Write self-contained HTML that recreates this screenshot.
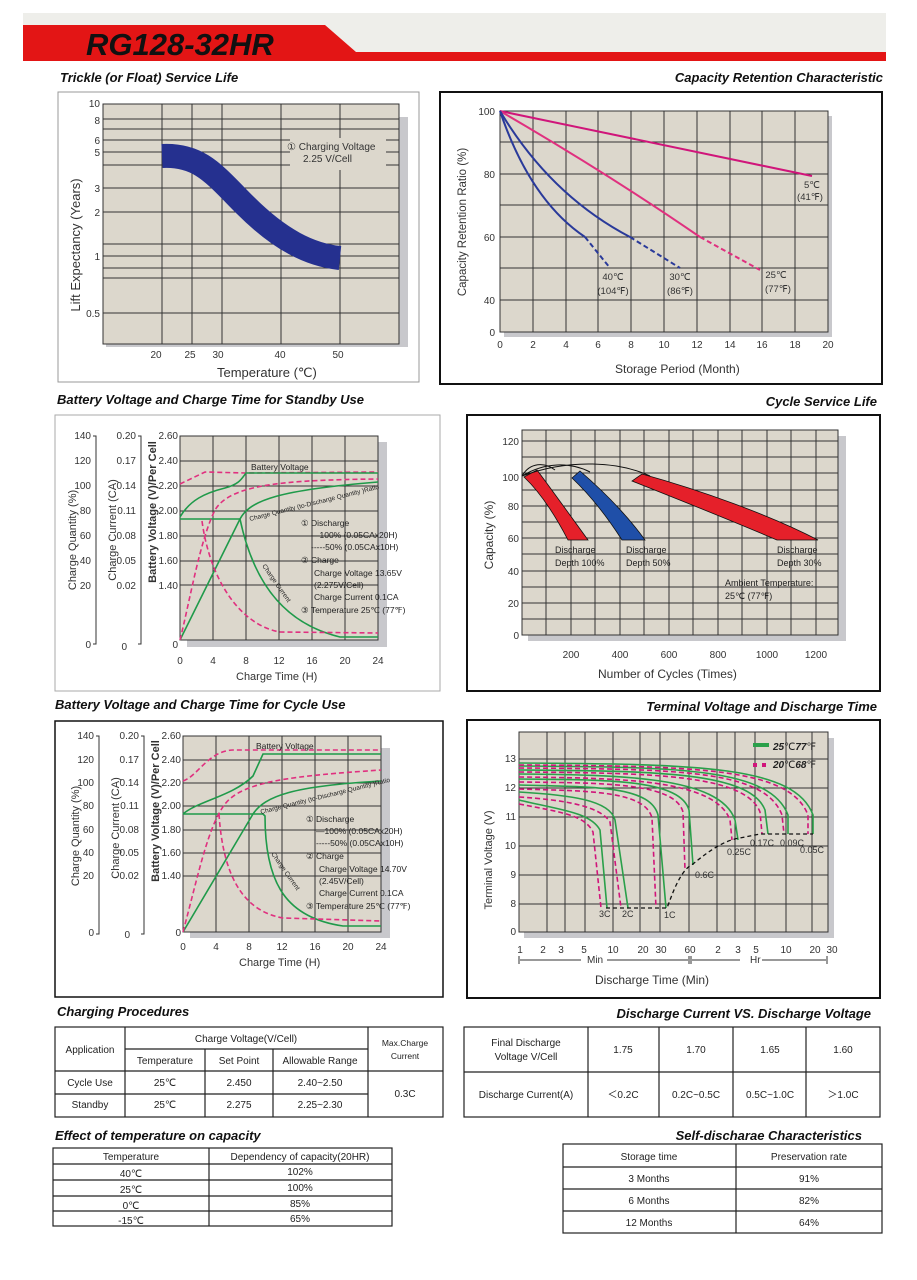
<!DOCTYPE html>
<html><head><meta charset="utf-8"><style>
body{margin:0;background:#fff;width:917px;height:1280px;overflow:hidden}
svg{display:block}
text{font-family:"Liberation Sans",sans-serif}
.t{font-weight:bold;font-style:italic;font-size:13px;fill:#111}
.ax{font-size:10px;fill:#333}
.lab{font-size:12px;fill:#333}
.g{stroke:#333;stroke-width:1}
.tb{font-family:"Liberation Sans Narrow","Liberation Sans",sans-serif;font-size:10px;fill:#222}
</style></head><body>
<svg width="917" height="1280" viewBox="0 0 917 1280">
<!-- header -->
<rect x="23" y="13" width="863" height="40" fill="#eeeeea"/>
<path d="M23 25 H325 L356 52 H886 V61 H23 Z" fill="#e31515"/>
<text x="86" y="55" font-size="31" font-weight="bold" font-style="italic" fill="#111">RG128-32HR</text>

<!-- titles -->
<text class="t" x="60" y="82">Trickle (or Float) Service Life</text>
<text class="t" x="883" y="82" text-anchor="end">Capacity Retention Characteristic</text>
<text class="t" x="57" y="404">Battery Voltage and Charge Time for Standby Use</text>
<text class="t" x="877" y="406" text-anchor="end">Cycle Service Life</text>
<text class="t" x="55" y="709">Battery Voltage and Charge Time for Cycle Use</text>
<text class="t" x="877" y="711" text-anchor="end">Terminal Voltage and Discharge Time</text>
<text class="t" x="57" y="1016">Charging Procedures</text>
<text class="t" x="871" y="1018" text-anchor="end">Discharge Current VS. Discharge Voltage</text>
<text class="t" x="55" y="1140">Effect of temperature on capacity</text>
<text class="t" x="862" y="1140" text-anchor="end">Self-discharae Characteristics</text>

<!-- Trickle -->
<rect x="58" y="92" width="361" height="290" fill="#fff" stroke="#999"/>
<rect x="106" y="117" width="302" height="230" fill="#c8c8cc"/>
<rect x="103" y="104" width="296" height="240" fill="#dcd7cc" stroke="#333"/>
<g class="g">
<line x1="103" y1="119" x2="399" y2="119"/><line x1="103" y1="129" x2="399" y2="129"/><line x1="103" y1="140" x2="399" y2="140"/>
<line x1="103" y1="152" x2="399" y2="152"/><line x1="103" y1="165" x2="399" y2="165"/><line x1="103" y1="188" x2="399" y2="188"/>
<line x1="103" y1="212" x2="399" y2="212"/><line x1="103" y1="244" x2="399" y2="244"/><line x1="103" y1="256" x2="399" y2="256"/>
<line x1="103" y1="268" x2="399" y2="268"/><line x1="103" y1="278" x2="399" y2="278"/><line x1="103" y1="313" x2="399" y2="313"/>
<line x1="162" y1="104" x2="162" y2="344"/><line x1="192" y1="104" x2="192" y2="344"/><line x1="222" y1="104" x2="222" y2="344"/>
<line x1="281" y1="104" x2="281" y2="344"/><line x1="340" y1="104" x2="340" y2="344"/>
</g>
<rect x="290" y="138" width="96" height="32" fill="#dcd7cc"/>
<text x="287" y="150" font-size="10" fill="#333">① Charging Voltage</text>
<text x="303" y="162" font-size="10" fill="#333">2.25 V/Cell</text>
<path d="M162 156 C200 154 215 175 245 205 C280 240 310 255 340 258" stroke="#25308f" stroke-width="24" fill="none"/>
<g class="ax" text-anchor="end">
<text x="100" y="107">10</text><text x="100" y="124">8</text><text x="100" y="144">6</text><text x="100" y="156">5</text>
<text x="100" y="192">3</text><text x="100" y="216">2</text><text x="100" y="260">1</text><text x="100" y="317">0.5</text>
</g>
<g class="ax" text-anchor="middle">
<text x="156" y="358">20</text><text x="190" y="358">25</text><text x="218" y="358">30</text><text x="280" y="358">40</text><text x="338" y="358">50</text>
</g>
<text x="217" y="377" font-size="13" fill="#333">Temperature (℃)</text>
<text transform="translate(80,245) rotate(-90)" font-size="13" fill="#333" text-anchor="middle">Lift  Expectancy (Years)</text>

<!-- Capacity retention -->
<rect x="440" y="92" width="442" height="292" fill="#fff" stroke="#111" stroke-width="2"/>
<rect x="504" y="116" width="328" height="221" fill="#c8c8cc"/>
<rect x="500" y="111" width="328" height="221" fill="#dcd7cc" stroke="#333"/>
<g class="g">
<line x1="533" y1="111" x2="533" y2="332"/><line x1="566" y1="111" x2="566" y2="332"/><line x1="598" y1="111" x2="598" y2="332"/>
<line x1="631" y1="111" x2="631" y2="332"/><line x1="664" y1="111" x2="664" y2="332"/><line x1="697" y1="111" x2="697" y2="332"/>
<line x1="730" y1="111" x2="730" y2="332"/><line x1="762" y1="111" x2="762" y2="332"/><line x1="795" y1="111" x2="795" y2="332"/>
<line x1="500" y1="142" x2="828" y2="142"/><line x1="500" y1="174" x2="828" y2="174"/><line x1="500" y1="205" x2="828" y2="205"/>
<line x1="500" y1="237" x2="828" y2="237"/><line x1="500" y1="268" x2="828" y2="268"/><line x1="500" y1="300" x2="828" y2="300"/>
</g>
<path d="M500 111 L812 176" stroke="#d0157a" stroke-width="2" fill="none"/>
<path d="M500 111 Q610 175 700 237" stroke="#e0307f" stroke-width="2" fill="none"/>
<path d="M700 237 L760 270" stroke="#e0307f" stroke-width="2" stroke-dasharray="5,3" fill="none"/>
<path d="M500 111 Q550 195 630 237" stroke="#2a3a9a" stroke-width="2" fill="none"/>
<path d="M630 237 L680 268" stroke="#2a3a9a" stroke-width="2" stroke-dasharray="5,3" fill="none"/>
<path d="M500 111 Q530 200 585 237" stroke="#2a3a9a" stroke-width="2" fill="none"/>
<path d="M585 237 L610 268" stroke="#2a3a9a" stroke-width="2" stroke-dasharray="5,3" fill="none"/>
<g font-size="9.5" fill="#333" text-anchor="middle">
<text x="613" y="280">40℃</text><text x="613" y="294">(104℉)</text>
<text x="680" y="280">30℃</text><text x="680" y="294">(86℉)</text>
<text x="776" y="278">25℃</text><text x="778" y="292">(77℉)</text>
<text x="812" y="188">5℃</text><text x="810" y="200">(41℉)</text>
</g>
<g class="ax" text-anchor="end"><text x="495" y="115">100</text><text x="495" y="178">80</text><text x="495" y="241">60</text><text x="495" y="304">40</text><text x="495" y="336">0</text></g>
<g class="ax" text-anchor="middle"><text x="500" y="348">0</text><text x="533" y="348">2</text><text x="566" y="348">4</text><text x="598" y="348">6</text><text x="631" y="348">8</text><text x="664" y="348">10</text><text x="697" y="348">12</text><text x="730" y="348">14</text><text x="762" y="348">16</text><text x="795" y="348">18</text><text x="828" y="348">20</text></g>
<text x="615" y="373" font-size="12" fill="#333">Storage Period (Month)</text>
<text transform="translate(466,222) rotate(-90)" font-size="11.5" fill="#333" text-anchor="middle">Capacity Retention Ratio (%)</text>

<!-- Standby -->
<g>
<rect x="55" y="415" width="385" height="276" fill="#fff" stroke="#aaa"/>
<rect x="187" y="442" width="200" height="205" fill="#c8c8cc"/>
<rect x="180" y="436" width="198" height="204" fill="#dcd7cc" stroke="#333"/>
<g class="g">
<line x1="213" y1="436" x2="213" y2="640"/><line x1="246" y1="436" x2="246" y2="640"/><line x1="279" y1="436" x2="279" y2="640"/><line x1="312" y1="436" x2="312" y2="640"/><line x1="345" y1="436" x2="345" y2="640"/>
<line x1="180" y1="461" x2="378" y2="461"/><line x1="180" y1="486" x2="378" y2="486"/><line x1="180" y1="511" x2="378" y2="511"/><line x1="180" y1="536" x2="378" y2="536"/><line x1="180" y1="561" x2="378" y2="561"/><line x1="180" y1="585" x2="378" y2="585"/>
</g>
<path d="M180 484 L205 472 L246 473 L378 472" stroke="#e0307f" stroke-width="1.6" stroke-dasharray="5,3" fill="none"/>
<path d="M180 517 C190 500 205 493 225 488 C240 484 242 478 246 473 L378 473" stroke="#1f9a4a" stroke-width="1.6" fill="none"/>
<path d="M180 519 L240 519" stroke="#1f9a4a" stroke-width="1.6" fill="none"/>
<path d="M180 640 L240 519 C250 500 280 490 378 482" stroke="#1f9a4a" stroke-width="1.6" fill="none"/>
<path d="M180 640 C190 600 200 540 215 510 C230 485 280 480 378 479" stroke="#e0307f" stroke-width="1.6" stroke-dasharray="5,3" fill="none"/>
<path d="M240 519 C255 590 290 625 340 637 L378 637" stroke="#1f9a4a" stroke-width="1.6" fill="none"/>
<path d="M202 521 C210 580 240 625 280 632 L378 633" stroke="#e0307f" stroke-width="1.6" stroke-dasharray="5,3" fill="none"/>
<g font-size="8.5" fill="#222"><text x="251" y="470">Battery Voltage</text>
<text transform="translate(250,521) rotate(-14)" font-size="6.5">Charge Quantity (to-Discharge Quantity )Ratio</text>
<text transform="translate(262,566) rotate(55)" font-size="6.5">Charge Current</text>
<text x="301" y="526">① Discharge</text><text x="311" y="538">—100% (0.05CAx20H)</text><text x="311" y="550">-----50% (0.05CAx10H)</text>
<text x="301" y="563">② Charge</text><text x="314" y="576">Charge Voltage  13.65V</text><text x="314" y="588">(2.275V/Cell)</text>
<text x="314" y="600">Charge Current 0.1CA</text><text x="301" y="613">③ Temperature 25℃ (77℉)</text></g>
<g class="ax" text-anchor="end" font-size="9">
<text x="91" y="439">140</text><text x="91" y="464">120</text><text x="91" y="489">100</text><text x="91" y="514">80</text><text x="91" y="539">60</text><text x="91" y="564">40</text><text x="91" y="589">20</text><text x="91" y="648">0</text>
<text x="136" y="439">0.20</text><text x="136" y="464">0.17</text><text x="136" y="489">0.14</text><text x="136" y="514">0.11</text><text x="136" y="539">0.08</text><text x="136" y="564">0.05</text><text x="136" y="589">0.02</text><text x="127" y="650">0</text>
<text x="178" y="439">2.60</text><text x="178" y="464">2.40</text><text x="178" y="489">2.20</text><text x="178" y="514">2.00</text><text x="178" y="539">1.80</text><text x="178" y="564">1.60</text><text x="178" y="589">1.40</text><text x="178" y="648">0</text>
</g>
<path d="M93 436 H96 V644 H93 M138 436 H141 V644 H138" stroke="#333" fill="none"/>
<g class="ax" text-anchor="middle" font-size="9"><text x="180" y="664">0</text><text x="213" y="664">4</text><text x="246" y="664">8</text><text x="279" y="664">12</text><text x="312" y="664">16</text><text x="345" y="664">20</text><text x="378" y="664">24</text></g>
<text x="236" y="680" font-size="11" fill="#333">Charge Time (H)</text>
<g font-size="11" fill="#333" text-anchor="middle">
<text transform="translate(76,540) rotate(-90)">Charge Quantity (%)</text>
<text transform="translate(116,530) rotate(-90)">Charge Current (CA)</text>
<text transform="translate(156,512) rotate(-90)" font-weight="bold">Battery Voltage (V)/Per Cell</text></g>
</g>

<!-- Cycle use -->
<g transform="translate(3,306)">
<rect x="52" y="415" width="388" height="276" fill="#fff" stroke="#111" stroke-width="1.5"/>
<rect x="187" y="442" width="200" height="190" fill="#c8c8cc"/>
<rect x="180" y="430" width="198" height="196" fill="#dcd7cc" stroke="#333"/>
<g class="g">
<line x1="213" y1="430" x2="213" y2="626"/><line x1="246" y1="430" x2="246" y2="626"/><line x1="279" y1="430" x2="279" y2="626"/><line x1="312" y1="430" x2="312" y2="626"/><line x1="345" y1="430" x2="345" y2="626"/>
<line x1="180" y1="454" x2="378" y2="454"/><line x1="180" y1="477" x2="378" y2="477"/><line x1="180" y1="500" x2="378" y2="500"/><line x1="180" y1="524" x2="378" y2="524"/><line x1="180" y1="547" x2="378" y2="547"/><line x1="180" y1="570" x2="378" y2="570"/>
</g>
<path d="M180 475 C195 470 205 445 230 444 L378 444" stroke="#e0307f" stroke-width="1.6" stroke-dasharray="5,3" fill="none"/>
<path d="M180 508 C195 495 230 490 250 470 L260 448 L378 448" stroke="#1f9a4a" stroke-width="1.6" fill="none"/>
<path d="M180 508 L260 508" stroke="#1f9a4a" stroke-width="1.6" fill="none"/>
<path d="M180 626 L250 508 C262 490 290 480 378 475" stroke="#1f9a4a" stroke-width="1.6" fill="none"/>
<path d="M180 626 C195 570 205 520 222 498 C240 475 290 470 378 464" stroke="#e0307f" stroke-width="1.6" stroke-dasharray="5,3" fill="none"/>
<path d="M260 508 L262 510 C262 580 285 612 340 620 L378 620" stroke="#1f9a4a" stroke-width="1.6" fill="none"/>
<path d="M216 508 C220 570 240 605 280 612 L378 615" stroke="#e0307f" stroke-width="1.6" stroke-dasharray="5,3" fill="none"/>
<g font-size="8.5" fill="#222"><text x="253" y="443">Battery Voltage</text>
<text transform="translate(258,508) rotate(-14)" font-size="6.5">Charge Quantity (to-Discharge Quantity )Ratio</text>
<text transform="translate(268,548) rotate(55)" font-size="6.5">Charge Current</text>
<text x="303" y="516">① Discharge</text><text x="313" y="528">—100% (0.05CAx20H)</text><text x="313" y="540">-----50% (0.05CAx10H)</text>
<text x="303" y="553">② Charge</text><text x="316" y="566">Charge Voltage 14.70V</text><text x="316" y="578">(2.45V/Cell)</text>
<text x="316" y="590">Charge Current 0.1CA</text><text x="303" y="603">③ Temperature 25℃ (77℉)</text></g>
<g class="ax" text-anchor="end" font-size="9">
<text x="91" y="433">140</text><text x="91" y="457">120</text><text x="91" y="480">100</text><text x="91" y="503">80</text><text x="91" y="527">60</text><text x="91" y="550">40</text><text x="91" y="573">20</text><text x="91" y="630">0</text>
<text x="136" y="433">0.20</text><text x="136" y="457">0.17</text><text x="136" y="480">0.14</text><text x="136" y="503">0.11</text><text x="136" y="527">0.08</text><text x="136" y="550">0.05</text><text x="136" y="573">0.02</text><text x="127" y="632">0</text>
<text x="178" y="433">2.60</text><text x="178" y="457">2.40</text><text x="178" y="480">2.20</text><text x="178" y="503">2.00</text><text x="178" y="527">1.80</text><text x="178" y="550">1.60</text><text x="178" y="573">1.40</text><text x="178" y="630">0</text>
</g>
<path d="M93 430 H96 V628 H93 M138 430 H141 V628 H138" stroke="#333" fill="none"/>
<g class="ax" text-anchor="middle" font-size="9"><text x="180" y="644">0</text><text x="213" y="644">4</text><text x="246" y="644">8</text><text x="279" y="644">12</text><text x="312" y="644">16</text><text x="345" y="644">20</text><text x="378" y="644">24</text></g>
<text x="236" y="660" font-size="11" fill="#333">Charge Time (H)</text>
<g font-size="11" fill="#333" text-anchor="middle">
<text transform="translate(76,530) rotate(-90)">Charge Quantity (%)</text>
<text transform="translate(116,522) rotate(-90)">Charge Current (CA)</text>
<text transform="translate(156,505) rotate(-90)" font-weight="bold">Battery Voltage (V)/Per Cell</text></g>
</g>

<!-- Cycle service life -->
<rect x="467" y="415" width="413" height="276" fill="#fff" stroke="#111" stroke-width="2"/>
<rect x="528" y="436" width="318" height="205" fill="#c8c8cc"/>
<rect x="522" y="430" width="316" height="205" fill="#dcd7cc" stroke="#333"/>
<g class="g">
<line x1="546" y1="430" x2="546" y2="635"/><line x1="571" y1="430" x2="571" y2="635"/><line x1="595" y1="430" x2="595" y2="635"/><line x1="620" y1="430" x2="620" y2="635"/><line x1="644" y1="430" x2="644" y2="635"/><line x1="669" y1="430" x2="669" y2="635"/><line x1="693" y1="430" x2="693" y2="635"/><line x1="718" y1="430" x2="718" y2="635"/><line x1="742" y1="430" x2="742" y2="635"/><line x1="767" y1="430" x2="767" y2="635"/><line x1="791" y1="430" x2="791" y2="635"/><line x1="816" y1="430" x2="816" y2="635"/>
<line x1="522" y1="441" x2="838" y2="441"/><line x1="522" y1="457" x2="838" y2="457"/><line x1="522" y1="473" x2="838" y2="473"/><line x1="522" y1="490" x2="838" y2="490"/><line x1="522" y1="506" x2="838" y2="506"/><line x1="522" y1="522" x2="838" y2="522"/><line x1="522" y1="538" x2="838" y2="538"/><line x1="522" y1="554" x2="838" y2="554"/><line x1="522" y1="571" x2="838" y2="571"/><line x1="522" y1="587" x2="838" y2="587"/><line x1="522" y1="603" x2="838" y2="603"/><line x1="522" y1="619" x2="838" y2="619"/>
</g>
<path d="M537 470 C552 490 572 518 588 540 L568 540 C555 515 540 492 524 477 Z" fill="#e5202a" stroke="#111" stroke-width="0.8"/>
<path d="M580 471 C602 490 627 515 645 540 L622 540 C606 515 590 495 572 478 Z" fill="#1f4fa8" stroke="#111" stroke-width="0.8"/>
<path d="M642 474 C700 490 770 515 818 540 L777 540 C730 520 680 500 632 481 Z" fill="#e5202a" stroke="#111" stroke-width="0.8"/>
<path d="M522 476 C530 462 545 462 555 470 M522 476 C545 462 570 462 590 472 M522 476 C570 458 620 462 650 476" stroke="#111" fill="none"/>
<g font-size="9" fill="#222"><text x="555" y="553">Discharge</text><text x="555" y="566">Depth 100%</text>
<text x="626" y="553">Discharge</text><text x="626" y="566">Depth 50%</text>
<text x="777" y="553">Discharge</text><text x="777" y="566">Depth 30%</text>
<text x="725" y="586">Ambient Temperature:</text><text x="725" y="599">25℃ (77℉)</text></g>
<g class="ax" text-anchor="end"><text x="519" y="445">120</text><text x="519" y="481">100</text><text x="519" y="510">80</text><text x="519" y="542">60</text><text x="519" y="575">40</text><text x="519" y="607">20</text><text x="519" y="639">0</text></g>
<g class="ax" text-anchor="middle"><text x="571" y="658">200</text><text x="620" y="658">400</text><text x="669" y="658">600</text><text x="718" y="658">800</text><text x="767" y="658">1000</text><text x="816" y="658">1200</text></g>
<text x="598" y="678" font-size="12" fill="#333">Number of Cycles (Times)</text>
<text transform="translate(493,535) rotate(-90)" font-size="12" fill="#333" text-anchor="middle">Capacity (%)</text>

<!-- Terminal voltage -->
<rect x="467" y="720" width="413" height="278" fill="#fff" stroke="#111" stroke-width="2"/>
<rect x="524" y="738" width="310" height="200" fill="#c8c8cc"/>
<rect x="519" y="732" width="309" height="200" fill="#dcd7cc" stroke="#333"/>
<g class="g">
<line x1="547" y1="732" x2="547" y2="932"/><line x1="565" y1="732" x2="565" y2="932"/><line x1="585" y1="732" x2="585" y2="932"/><line x1="613" y1="732" x2="613" y2="932"/><line x1="640" y1="732" x2="640" y2="932"/><line x1="660" y1="732" x2="660" y2="932"/><line x1="689" y1="732" x2="689" y2="932"/><line x1="717" y1="732" x2="717" y2="932"/><line x1="735" y1="732" x2="735" y2="932"/><line x1="755" y1="732" x2="755" y2="932"/><line x1="786" y1="732" x2="786" y2="932"/><line x1="812" y1="732" x2="812" y2="932"/>
<line x1="519" y1="759" x2="828" y2="759"/><line x1="519" y1="788" x2="828" y2="788"/><line x1="519" y1="817" x2="828" y2="817"/><line x1="519" y1="846" x2="828" y2="846"/><line x1="519" y1="875" x2="828" y2="875"/><line x1="519" y1="904" x2="828" y2="904"/>
</g>
<g fill="none" stroke-width="1.6">
<g stroke="#2aa04a">
<path d="M519 800 C560 810 590 812 600 830 L607 908"/>
<path d="M519 792 C570 795 610 800 615 820 L628 908"/>
<path d="M519 785 C590 787 650 785 658 815 L666 908"/>
<path d="M519 779 C600 780 680 778 689 810 L693 865"/>
<path d="M519 774 C620 775 720 776 735 820 L738 840"/>
<path d="M519 770 C650 771 750 771 765 810 L768 834"/>
<path d="M519 766 C680 767 770 768 788 815 L788 834"/>
<path d="M519 763 C700 764 795 766 813 815 L813 834"/>
</g>
<g stroke="#d0157a" stroke-dasharray="5,3">
<path d="M519 804 C560 812 585 815 593 832 L601 908"/>
<path d="M519 797 C565 800 600 806 610 822 L621 908"/>
<path d="M519 789 C585 791 645 790 652 818 L656 908"/>
<path d="M519 782 C600 783 675 782 683 812 L685 870"/>
<path d="M519 777 C620 778 715 779 730 820 L732 840"/>
<path d="M519 772 C650 773 745 774 760 812 L762 834"/>
<path d="M519 768 C680 769 765 770 782 815 L784 834"/>
<path d="M519 765 C700 766 790 768 808 815 L808 834"/>
</g>
<path d="M606 908 L667 908 C672 895 680 870 693 864 C710 850 725 840 740 838 L760 834 L813 834" stroke="#111" stroke-dasharray="4,3" stroke-width="1.3"/>
</g>
<g font-size="9" fill="#333"><text x="599" y="917">3C</text><text x="622" y="917">2C</text><text x="664" y="918">1C</text><text x="695" y="878">0.6C</text><text x="727" y="855">0.25C</text><text x="750" y="846">0.17C</text><text x="780" y="846">0.09C</text><text x="800" y="853">0.05C</text></g>
<rect x="753" y="743" width="16" height="4" fill="#2aa04a"/>
<rect x="753" y="763" width="4" height="4" fill="#d0157a"/><rect x="762" y="763" width="4" height="4" fill="#d0157a"/>
<text x="773" y="750" font-size="10" font-weight="bold" font-style="italic" fill="#222">25<tspan font-weight="normal" font-style="normal">℃</tspan>77<tspan font-weight="normal" font-style="normal">℉</tspan></text>
<text x="773" y="768" font-size="10" font-weight="bold" font-style="italic" fill="#222">20<tspan font-weight="normal" font-style="normal">℃</tspan>68<tspan font-weight="normal" font-style="normal">℉</tspan></text>
<g class="ax" text-anchor="end"><text x="516" y="762">13</text><text x="516" y="791">12</text><text x="516" y="820">11</text><text x="516" y="849">10</text><text x="516" y="878">9</text><text x="516" y="907">8</text><text x="516" y="935">0</text></g>
<g class="ax" text-anchor="middle"><text x="520" y="953">1</text><text x="543" y="953">2</text><text x="561" y="953">3</text><text x="584" y="953">5</text><text x="613" y="953">10</text><text x="643" y="953">20</text><text x="661" y="953">30</text><text x="690" y="953">60</text><text x="718" y="953">2</text><text x="738" y="953">3</text><text x="756" y="953">5</text><text x="786" y="953">10</text><text x="815" y="953">20</text><text x="832" y="953">30</text></g>
<path d="M520 960 H581 M607 960 H688 M692 960 H740 M762 960 H826 M519 956 V964 M689 956 V964 M691 956 V964 M827 956 V964" stroke="#333"/>
<text x="587" y="963" font-size="10" fill="#333">Min</text><text x="750" y="963" font-size="10" fill="#333">Hr</text>
<text x="595" y="984" font-size="12" fill="#333">Discharge Time (Min)</text>
<text transform="translate(492,860) rotate(-90)" font-size="11" fill="#333" text-anchor="middle">Terminal Voltage (V)</text>

<!-- Tables -->
<g stroke="#222" stroke-width="1.2" fill="none">
<rect x="55" y="1027" width="388" height="90"/>
<path d="M125 1027 V1117 M368 1027 V1117 M125 1049 H368 M55 1071 H443 M55 1094 H368 M205 1049 V1117 M273 1049 V1117"/>
<rect x="464" y="1027" width="416" height="90"/>
<path d="M464 1072 H880 M588 1027 V1117 M659 1027 V1117 M733 1027 V1117 M806 1027 V1117"/>
<rect x="53" y="1148" width="339" height="78"/>
<path d="M53 1164 H392 M53 1180 H392 M53 1196 H392 M53 1211 H392 M209 1148 V1226"/>
<rect x="563" y="1144" width="319" height="89"/>
<path d="M563 1167 H882 M563 1189 H882 M563 1211 H882 M736 1144 V1233"/>
</g>
<g class="tb" text-anchor="middle">
<text x="90" y="1053">Application</text><text x="246" y="1042">Charge Voltage(V/Cell)</text><text x="405" y="1046" font-size="8.5">Max.Charge</text><text x="405" y="1059" font-size="8.5">Current</text>
<text x="165" y="1064">Temperature</text><text x="239" y="1064">Set Point</text><text x="320" y="1064">Allowable Range</text>
<text x="90" y="1086">Cycle Use</text><text x="165" y="1086">25℃</text><text x="239" y="1086">2.450</text><text x="320" y="1086">2.40~2.50</text>
<text x="90" y="1108">Standby</text><text x="165" y="1108">25℃</text><text x="239" y="1108">2.275</text><text x="320" y="1108">2.25~2.30</text>
<text x="405" y="1097">0.3C</text>
<text x="526" y="1046">Final Discharge</text><text x="526" y="1060">Voltage V/Cell</text>
<text x="623" y="1053">1.75</text><text x="696" y="1053">1.70</text><text x="770" y="1053">1.65</text><text x="843" y="1053">1.60</text>
<text x="526" y="1098">Discharge Current(A)</text><text x="623" y="1098">＜0.2C</text><text x="696" y="1098">0.2C~0.5C</text><text x="770" y="1098">0.5C~1.0C</text><text x="843" y="1098">＞1.0C</text>
<text x="131" y="1160">Temperature</text><text x="300" y="1160">Dependency of capacity(20HR)</text>
<text x="131" y="1177">40℃</text><text x="300" y="1175">102%</text>
<text x="131" y="1193">25℃</text><text x="300" y="1191">100%</text>
<text x="131" y="1209">0℃</text><text x="300" y="1207">85%</text>
<text x="131" y="1224">-15℃</text><text x="300" y="1222">65%</text>
<text x="649" y="1160">Storage time</text><text x="809" y="1160">Preservation rate</text>
<text x="649" y="1182">3 Months</text><text x="809" y="1182">91%</text>
<text x="649" y="1204">6 Months</text><text x="809" y="1204">82%</text>
<text x="649" y="1226">12 Months</text><text x="809" y="1226">64%</text>
</g>
</svg>
</body></html>
